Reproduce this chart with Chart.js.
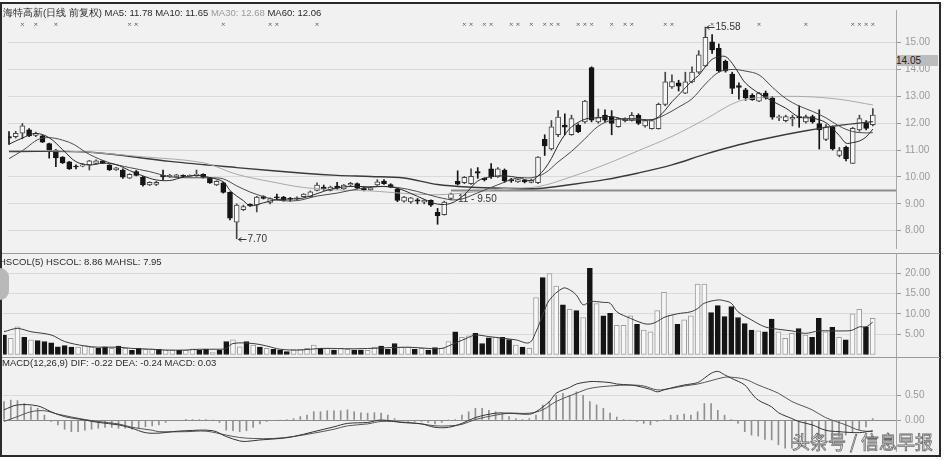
<!DOCTYPE html>
<html>
<head>
<meta charset="utf-8">
<script src="https://cdn.jsdelivr.net/npm/chart.js@4.4.1/dist/chart.umd.min.js"></script>
<style>
  body { margin: 0; background: #fff; }
  #wrap { position: relative; width: 946px; height: 460px; overflow: hidden; background: #fff; font-family: "Liberation Sans", Arial, sans-serif; }
  #frame { position: absolute; left: 0; top: 2px; width: 937px; height: 451px; border: 2px solid #2a2a2a; background: #f1f1f1; }
  canvas { position: absolute; }
  .lg { position: absolute; font-size: 9.5px; white-space: nowrap; color: #2a2a2a; }
  .sep { position: absolute; left: 2px; width: 938px; height: 1px; background: #9a9a9a; }
  #tab { position: absolute; left: 0; top: 268px; width: 9px; height: 32px; background: #b9b9b9; border-radius: 0 16px 16px 0; }
  #last { position: absolute; left: 896px; top: 55px; width: 42px; height: 11px; background: #bcbcbc; font-size: 10px; line-height: 11px; color: #222; }
  #mark { position: absolute; left: 792px; top: 430px; font-size: 18px; line-height: 22px; font-family: "Noto Sans CJK SC", sans-serif; color: #fbfbfb; -webkit-text-stroke: 0.8px #6a6a6a; }
</style>
</head>
<body>
<div id="wrap">
  <div id="frame"></div>
  <canvas id="priceChart" width="937" height="248" style="left:3px;top:5px"></canvas>
  <canvas id="volChart" width="937" height="104" style="left:3px;top:253px"></canvas>
  <canvas id="macdChart" width="937" height="95" style="left:3px;top:357px"></canvas>
  <div class="sep" style="top:253px"></div>
  <div class="sep" style="top:357px"></div>
  <div class="lg" style="left:3px;top:7px">海特高新(日线 前复权) MA5: 11.78 MA10: 11.65 <span style="color:#9a9a9a">MA30: 12.68</span> MA60: 12.06</div>
  <div class="lg" style="left:-1px;top:256px">HSCOL(5) HSCOL: 8.86 MAHSL: 7.95</div>
  <div class="lg" style="left:2px;top:357px">MACD(12,26,9) DIF: -0.22 DEA: -0.24 MACD: 0.03</div>
  <div id="tab"></div>
  <div id="last">14.05</div>
  <div id="mark">头条号 / 信息早报</div>
</div>
<script>
// daily candles
const opens = [11.50,11.50,11.63,11.75,11.55,11.53,11.24,11.00,10.74,10.56,
  10.40,10.40,10.44,10.50,10.60,10.44,10.26,10.26,9.96,10.20,
  9.99,9.70,9.72,10.06,10.00,10.00,10.06,10.02,10.06,10.10,
  9.96,9.70,9.78,9.43,8.32,8.78,8.98,8.95,9.27,9.05,
  9.25,9.25,9.20,9.17,9.27,9.27,9.50,9.62,9.50,9.66,
  9.56,9.70,9.75,9.60,9.52,9.70,9.85,9.72,9.55,9.10,
  9.07,9.15,9.06,9.13,8.68,8.60,9.20,9.84,9.79,9.75,
  10.20,9.95,10.30,10.00,10.26,9.90,9.82,9.88,9.80,9.79,
  11.40,11.04,11.57,11.93,11.57,11.93,12.05,14.07,12.05,12.30,
  12.23,11.87,12.10,12.11,12.29,11.90,11.80,11.80,12.70,13.35,
  13.50,13.12,13.54,13.90,14.13,15.03,14.79,14.30,13.83,13.40,
  13.24,13.04,12.82,13.12,12.94,12.20,12.10,12.15,12.25,12.05,
  12.25,11.99,11.40,11.87,10.80,11.10,10.50,11.75,12.00,11.95];
const highs = [11.69,11.70,11.99,11.80,11.67,11.56,11.26,11.02,10.76,10.58,
  10.45,10.50,10.62,10.64,10.62,10.46,10.36,10.30,10.12,10.24,
  10.02,9.82,9.84,10.26,10.10,10.10,10.08,10.08,10.26,10.12,
  9.98,9.86,9.80,9.45,9.00,8.95,9.00,9.28,9.30,9.22,
  9.36,9.28,9.24,9.26,9.38,9.48,9.78,9.70,9.66,9.80,
  9.72,9.80,9.78,9.62,9.64,9.90,9.90,9.75,9.58,9.28,
  9.24,9.20,9.16,9.15,8.83,9.10,9.40,10.23,10.02,10.30,
  10.35,9.97,10.50,10.35,10.30,9.95,9.93,9.90,9.92,10.76,
  11.57,12.10,12.47,12.35,12.30,11.98,12.85,14.10,12.53,12.50,
  12.47,12.20,12.20,12.40,12.35,12.15,12.12,12.75,13.90,13.80,
  13.60,13.90,14.10,14.70,15.58,15.30,14.95,14.35,13.90,13.50,
  13.30,13.10,13.15,13.20,13.00,12.30,12.30,12.30,12.65,12.30,
  12.30,12.50,11.95,11.90,11.10,11.15,11.85,12.30,12.10,12.55];
const lows = [11.21,11.45,11.42,11.50,11.50,11.28,10.70,10.38,10.50,10.28,
  10.30,10.38,10.26,10.48,10.50,10.24,10.24,9.95,9.94,10.04,
  9.66,9.68,9.68,9.90,9.98,9.98,10.00,10.00,10.02,9.96,
  9.76,9.68,9.40,8.40,7.70,8.75,8.90,8.70,9.18,9.00,
  9.15,9.10,9.10,9.15,9.25,9.25,9.48,9.50,9.48,9.55,
  9.54,9.66,9.56,9.48,9.50,9.68,9.72,9.60,9.08,9.06,
  9.02,9.00,9.00,8.90,8.24,8.58,9.15,9.70,9.75,9.72,
  9.95,9.85,9.95,9.98,9.80,9.80,9.80,9.78,9.78,9.75,
  10.80,11.00,11.50,11.57,11.55,11.65,12.00,12.05,12.00,12.05,
  11.57,11.85,12.05,12.08,11.95,11.85,11.78,11.78,12.65,13.30,
  13.20,13.10,13.50,13.85,14.10,14.60,13.90,13.90,13.10,12.90,
  12.85,12.85,12.80,12.90,12.15,12.10,12.05,11.90,11.85,12.00,
  12.00,11.04,11.35,11.00,10.75,10.60,10.50,11.70,11.75,11.90];
const closes = [11.44,11.62,11.90,11.53,11.62,11.30,10.97,10.71,10.52,10.30,
  10.37,10.45,10.60,10.60,10.52,10.26,10.34,9.99,10.10,10.06,
  9.70,9.80,9.80,10.00,10.06,10.08,10.02,10.06,10.08,9.98,
  9.78,9.84,9.43,8.47,8.95,8.90,8.92,9.25,9.20,9.20,
  9.22,9.13,9.17,9.22,9.36,9.45,9.70,9.56,9.62,9.58,
  9.70,9.76,9.58,9.52,9.60,9.82,9.75,9.62,9.13,9.25,
  9.22,9.10,9.14,8.95,8.56,9.07,9.37,9.73,9.99,10.02,
  10.14,9.90,10.00,10.30,9.85,9.85,9.90,9.82,9.88,10.74,
  11.16,11.87,12.23,11.85,12.17,11.69,12.82,12.11,12.23,12.11,
  11.99,12.17,12.17,12.29,11.99,12.10,12.10,12.70,13.54,13.55,
  13.38,13.54,13.90,14.55,15.20,14.73,13.95,13.95,13.30,13.33,
  12.94,12.88,13.12,12.94,12.23,12.25,12.25,12.22,12.20,12.25,
  12.05,11.75,11.87,11.04,10.98,10.68,11.81,12.17,11.81,12.30];

// moving averages as [day, value] points
const ma5Pts = [[0,11.22],[2,11.45],[4,11.62],[6,11.46],[8,11.02],[10,10.57],[12,10.45],[14,10.51],[16,10.46],[18,10.24],[20,10.04],[22,9.89],[24,9.87],[26,9.99],[28,10.06],[30,9.98],[32,9.82],[33,9.5],[34,9.29],[35,9.12],[36,8.93],[38,9.04],[40,9.16],[42,9.18],[44,9.22],[46,9.38],[48,9.54],[50,9.63],[52,9.65],[54,9.63],[56,9.65],[58,9.58],[60,9.39],[62,9.17],[64,8.99],[66,9.02],[68,9.34],[70,9.85],[72,10.01],[74,10.04],[76,9.98],[78,9.86],[79,10.04],[80,10.3],[81,10.69],[82,11.18],[83,11.57],[84,11.86],[86,12.15],[88,12.2],[90,12.25],[92,12.13],[94,12.12],[96,12.13],[97,12.24],[98,12.49],[99,12.8],[100,13.05],[102,13.58],[103,13.78],[104,14.11],[105,14.38],[106,14.47],[107,14.48],[108,14.23],[109,13.85],[110,13.49],[112,13.11],[114,12.82],[116,12.56],[118,12.23],[120,12.19],[122,12.02],[124,11.54],[125,11.26],[126,11.28],[127,11.34],[128,11.49],[129,11.78]];
const ma10Pts = [[0,10.68],[2,10.98],[5,11.45],[9,11.29],[12,10.84],[15,10.53],[18,10.35],[21,10.2],[24,10.01],[27,9.97],[30,9.97],[32,9.93],[34,9.67],[36,9.44],[38,9.27],[40,9.14],[43,9.12],[46,9.29],[49,9.4],[52,9.55],[55,9.64],[58,9.61],[61,9.46],[64,9.25],[67,9.15],[70,9.41],[73,9.71],[76,9.97],[78,9.97],[80,10.14],[82,10.56],[84,10.95],[86,11.42],[88,11.89],[90,12.11],[93,12.18],[96,12.13],[98,12.32],[100,12.6],[102,12.91],[104,13.46],[106,13.9],[108,14.0],[110,13.94],[112,13.8],[114,13.34],[116,12.92],[118,12.64],[120,12.44],[122,12.2],[124,11.89],[126,11.69],[128,11.64],[129,11.65]];
const ma30Pts = [[0,10.98],[6,10.98],[12,10.92],[20,10.75],[29,10.53],[34,10.1],[39,9.83],[44,9.61],[49,9.52],[54,9.48],[59,9.39],[64,9.34],[69,9.43],[74,9.57],[79,9.64],[84,10.01],[89,10.46],[94,10.98],[99,11.51],[104,12.15],[109,12.82],[114,12.98],[119,12.99],[124,12.89],[129,12.68]];
const ma60Pts = [[0,10.95],[12,10.92],[24,10.58],[34,10.35],[44,10.14],[49,10.06],[54,10.02],[59,9.96],[64,9.72],[69,9.62],[74,9.58],[79,9.57],[84,9.72],[89,9.9],[94,10.15],[99,10.45],[104,10.85],[109,11.2],[114,11.48],[119,11.72],[124,11.92],[129,12.06]];
const supportLevel = 9.50;
const supportFrom = 66;
const eventDays = [2,4,7,18,19,32,39,40,46,68,69,71,72,75,76,78,80,81,82,85,86,87,90,92,93,98,99,105,112,119,126,127,128,129];

// turnover (HSCOL) and its 5-day average
const hscol = [4.8,4.0,6.8,4.2,3.6,3.4,3.2,2.9,1.9,2.2,
  1.8,1.8,2.2,1.8,1.5,1.9,1.5,2.1,1.5,1.0,
  1.5,1.3,1.3,1.3,1.1,1.1,1.0,1.0,1.4,1.1,
  1.3,0.5,1.1,3.2,3.6,1.9,3.2,2.3,1.8,1.5,
  1.3,1.1,0.7,1.2,1.3,1.5,2.3,1.5,1.5,1.1,
  1.5,1.3,1.1,1.1,1.0,1.8,2.1,1.3,2.7,1.8,
  1.8,1.3,1.5,1.1,1.7,1.5,3.2,5.6,4.2,4.6,
  5.2,2.7,4.1,4.3,4.2,3.7,2.3,1.8,1.5,14.0,
  18.9,19.9,16.8,12.2,11.1,10.8,9.1,21.2,12.5,9.5,
  10.1,7.2,7.2,9.5,7.4,6.0,5.6,10.8,15.3,9.7,
  7.4,8.5,9.5,17.3,17.3,10.3,12.0,9.3,11.8,9.1,
  7.6,6.0,5.8,5.6,8.7,5.6,4.0,5.2,6.4,4.8,
  4.2,8.9,5.6,6.7,4.2,3.6,10.0,11.1,6.8,8.86];
const mahslPts = [[0,5.6],[2,6.4],[4,5.6],[7,4.8],[9,3.2],[12,2.1],[14,1.8],[17,1.8],[19,1.5],[22,1.3],[24,1.1],[27,1.1],[29,1.3],[32,1.3],[33,1.5],[34,2.7],[37,2.7],[39,2.1],[41,1.3],[44,1.1],[47,1.5],[52,1.4],[56,1.6],[60,1.8],[63,1.5],[65,1.5],[66,2.1],[67,2.8],[69,4.2],[70,4.8],[72,4.4],[74,4.0],[76,3.6],[78,2.9],[79,5.6],[80,9.7],[81,13.4],[83,16.3],[84,15.9],[85,14.6],[86,12.2],[87,13.0],[88,13.0],[89,12.8],[90,12.6],[91,10.5],[93,8.9],[95,7.6],[96,7.5],[97,8.1],[98,9.1],[100,10.0],[102,10.5],[103,11.3],[104,12.6],[106,13.4],[107,13.2],[108,12.6],[109,10.5],[111,8.5],[113,6.8],[115,6.2],[117,5.8],[119,5.2],[121,5.8],[123,5.8],[125,5.8],[126,6.0],[127,6.8],[128,6.8],[129,7.95]];

// MACD(12,26,9)
const macdHist = [0.38,0.41,0.40,0.34,0.27,0.24,0.10,-0.03,-0.10,-0.19,
  -0.24,-0.24,-0.21,-0.19,-0.17,-0.15,-0.15,-0.17,-0.17,-0.19,
  -0.17,-0.14,-0.12,-0.10,-0.05,-0.01,-0.01,0.005,0.01,0.01,
  0.005,0,-0.05,-0.21,-0.22,-0.24,-0.22,-0.15,-0.08,-0.03,
  -0.01,0,0.01,0.03,0.07,0.10,0.17,0.17,0.19,0.19,
  0.19,0.21,0.17,0.15,0.14,0.15,0.14,0.10,0.03,-0.01,
  -0.03,-0.03,-0.03,-0.05,-0.08,-0.05,0,0.01,0.10,0.17,
  0.24,0.24,0.20,0.17,0.14,0.07,0.03,0.01,0.03,0.10,
  0.31,0.38,0.51,0.55,0.51,0.58,0.51,0.38,0.31,0.24,
  0.14,0.06,0.01,0,-0.03,-0.07,-0.10,-0.03,0.01,0.10,
  0.10,0.12,0.10,0.17,0.34,0.34,0.20,0.10,0.01,-0.07,
  -0.24,-0.31,-0.33,-0.40,-0.41,-0.51,-0.58,-0.58,-0.58,-0.55,
  -0.48,-0.45,-0.45,-0.41,-0.34,-0.31,-0.24,-0.20,-0.14,0.03];
const difPts = [[0,0.21],[2,0.31],[5,0.29],[7,0.17],[9,0.07],[12,0],[14,-0.05],[17,-0.10],[19,-0.17],[21,-0.26],[23,-0.27],[25,-0.24],[27,-0.22],[31,-0.22],[33,-0.34],[35,-0.43],[36,-0.44],[38,-0.41],[41,-0.38],[43,-0.34],[46,-0.24],[49,-0.14],[51,-0.07],[54,-0.05],[56,0],[59,-0.05],[62,-0.08],[64,-0.15],[66,-0.15],[68,-0.07],[70,0.05],[73,0.14],[75,0.14],[78,0.12],[79,0.17],[81,0.38],[82,0.55],[84,0.67],[85,0.74],[87,0.79],[88,0.79],[90,0.77],[91,0.74],[93,0.72],[94,0.70],[96,0.63],[97,0.58],[98,0.62],[100,0.69],[101,0.72],[103,0.77],[104,0.86],[105,0.96],[106,1.0],[107,0.93],[108,0.86],[110,0.72],[111,0.55],[112,0.41],[114,0.27],[115,0.15],[117,0.03],[118,-0.03],[120,-0.10],[122,-0.21],[124,-0.24],[127,-0.26],[129,-0.22]];
const deaPts = [[0,-0.03],[2,0.07],[4,0.17],[6,0.19],[8,0.12],[12,0.01],[14,-0.03],[17,-0.08],[19,-0.15],[22,-0.21],[23,-0.24],[27,-0.24],[30,-0.23],[33,-0.31],[35,-0.36],[37,-0.38],[40,-0.38],[43,-0.34],[46,-0.27],[49,-0.19],[51,-0.12],[54,-0.08],[56,-0.03],[59,-0.04],[62,-0.08],[64,-0.12],[66,-0.12],[68,-0.09],[70,0.01],[73,0.10],[75,0.14],[78,0.14],[80,0.21],[82,0.38],[85,0.55],[87,0.65],[90,0.70],[93,0.72],[95,0.70],[97,0.62],[99,0.65],[101,0.70],[103,0.74],[105,0.81],[107,0.88],[108,0.88],[110,0.84],[112,0.72],[115,0.55],[117,0.38],[120,0.21],[122,0.05],[125,-0.10],[127,-0.21],[129,-0.24]];

const priceTicks = [8, 9, 10, 11, 12, 13, 14, 15];
const volTicks = [5, 10, 15, 20];
const macdTicks = [0, 0.5];

const days = closes.map((c, i) => i);
const isUp = i => closes[i] >= opens[i];
const pts = arr => arr.map(p => ({ x: p[0], y: p[1] }));
const FONT = { family: "Liberation Sans", size: 10 };

// x range shared by the three panels so the bars line up
const X_MIN = -0.15, X_MAX = 132.46;
const AXIS_W = 44;

function xScale() {
  return { type: "linear", min: X_MIN, max: X_MAX, offset: false, display: false };
}
function yScale(min, max, ticks, zeroDark) {
  return {
    position: "right", min: min, max: max,
    afterBuildTicks: s => { s.ticks = ticks.map(v => ({ value: v })); },
    afterFit: s => { s.width = AXIS_W; s.paddingTop = 0; s.paddingBottom = 0; },
    ticks: { color: "#9a9a9a", font: FONT, padding: 4, callback: v => v.toFixed(2) },
    grid: {
      color: c => (zeroDark && c.tick && c.tick.value === 0) ? "#8a8a8a" : "#dadada",
      tickColor: "#9a9a9a", tickLength: 5
    },
    border: { color: "#a8a8a8" }
  };
}
function lineSet(data, color, width, order) {
  return { type: "line", data: data, borderColor: color, borderWidth: width, pointRadius: 0, tension: 0.35, order: order };
}
const baseOpts = {
  responsive: false, animation: false, devicePixelRatio: 1,
  layout: { padding: 0 },
  plugins: { legend: { display: false }, tooltip: { enabled: false } }
};

// price notes: extreme highs/lows and the support level text
const lowDay = lows.indexOf(Math.min(...lows));
const highDay = highs.indexOf(Math.max(...highs));
const notes = {
  id: "notes",
  afterDatasetsDraw(chart) {
    const { ctx, scales: { x, y } } = chart;
    ctx.save();
    ctx.font = '10px "Liberation Sans"';
    ctx.fillStyle = "#333";
    ctx.strokeStyle = "#333";
    ctx.lineWidth = 1;
    [[lowDay, lows[lowDay]], [highDay, highs[highDay]]].forEach(([d, v]) => {
      const px = Math.round(x.getPixelForValue(d)) + 1.5;
      const py = Math.round(y.getPixelForValue(v)) + 0.5;
      ctx.beginPath();
      ctx.moveTo(px, py); ctx.lineTo(px + 8, py);
      ctx.moveTo(px, py); ctx.lineTo(px + 3, py - 2);
      ctx.moveTo(px, py); ctx.lineTo(px + 3, py + 2);
      ctx.stroke();
      ctx.textBaseline = "middle";
      ctx.fillText(v.toFixed(2), px + 9, py);
    });
    ctx.textBaseline = "top";
    ctx.fillText("11 - " + supportLevel.toFixed(2), x.getPixelForValue(supportFrom) + 7, y.getPixelForValue(supportLevel) + 4);
    ctx.restore();
  }
};

new Chart(document.getElementById("priceChart"), {
  type: "bar",
  data: {
    datasets: [
      lineSet(pts(ma5Pts), "#2b2b2b", 1, 0),
      lineSet(pts(ma10Pts), "#4a4a4a", 1, 0),
      lineSet(pts(ma30Pts), "#a9a9a9", 1, 0),
      lineSet(pts(ma60Pts), "#3a3a3a", 1.4, 0),
      { type: "line", data: [{ x: supportFrom, y: supportLevel }, { x: X_MAX, y: supportLevel }],
        borderColor: "#8c8c8c", borderWidth: 2, pointRadius: 0, order: 0 },
      { type: "scatter", data: eventDays.map(d => ({ x: d, y: 15.68 })), pointStyle: "crossRot",
        pointRadius: 2, borderColor: "#777", borderWidth: 1, order: 0 },
      {
        data: days.map(i => ({ x: i, y: [opens[i], closes[i]] })),
        backgroundColor: days.map(i => isUp(i) ? "#f7f7f7" : "#141414"),
        borderColor: days.map(i => isUp(i) ? "#454545" : "#141414"),
        borderWidth: 1, borderSkipped: false, barThickness: 5, minBarLength: 1, grouped: false, order: 1
      },
      {
        data: days.map(i => ({ x: i, y: [lows[i], highs[i]] })),
        backgroundColor: days.map(i => isUp(i) ? "#454545" : "#141414"),
        barThickness: 1, grouped: false, order: 2
      }
    ]
  },
  options: Object.assign({}, baseOpts, {
    scales: { x: xScale(), y: yScale(7.357, 16.214, priceTicks, false) }
  }),
  plugins: [notes]
});

new Chart(document.getElementById("volChart"), {
  type: "bar",
  data: {
    datasets: [
      lineSet(pts(mahslPts), "#3a3a3a", 1, 0),
      {
        data: days.map(i => ({ x: i, y: hscol[i] })),
        backgroundColor: days.map(i => isUp(i) ? "#f7f7f7" : "#141414"),
        borderColor: days.map(i => isUp(i) ? "#9d9d9d" : "#141414"),
        borderWidth: 1, borderSkipped: false, barThickness: 5, grouped: false, order: 1
      }
    ]
  },
  options: Object.assign({}, baseOpts, {
    scales: { x: xScale(), y: yScale(-0.61, 24.94, volTicks, false) }
  })
});

new Chart(document.getElementById("macdChart"), {
  type: "bar",
  data: {
    datasets: [
      lineSet(pts(difPts), "#333", 1, 0),
      lineSet(pts(deaPts), "#555", 1, 0),
      {
        data: days.map(i => ({ x: i, y: macdHist[i] })),
        backgroundColor: "#8f8f8f", barThickness: 1, grouped: false, order: 1
      }
    ]
  },
  options: Object.assign({}, baseOpts, {
    scales: { x: xScale(), y: yScale(-0.658, 1.296, macdTicks, true) }
  })
});
</script>
</body>
</html>
